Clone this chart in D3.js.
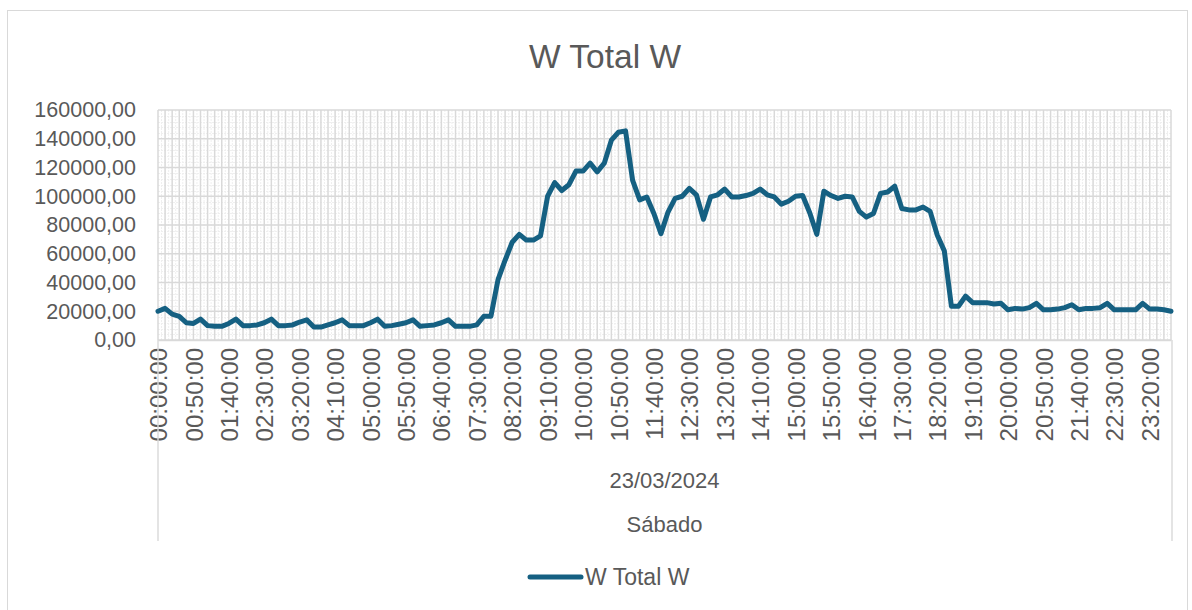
<!DOCTYPE html>
<html>
<head>
<meta charset="utf-8">
<script src="https://cdn.jsdelivr.net/npm/d3@7/dist/d3.min.js"></script>
<style>
  html, body { margin: 0; padding: 0; background: #ffffff; }
  svg { display: block; }
  text { font-family: "Liberation Sans", Arial, sans-serif; fill: #595959; }
</style>
</head>
<body>
<svg id="chart" width="1192" height="610"></svg>
<script>
// W Total W, sampled every 10 minutes on 23/03/2024
const seriesName = "W Total W";
const dateLabel = "23/03/2024";
const dayLabel = "Sábado";
const yTicks = [0, 20000, 40000, 60000, 80000, 100000, 120000, 140000, 160000];

// 00:00:00 ... 23:50:00
const times = d3.range(0, 144).map(i => {
  const h = Math.floor(i / 6), m = (i % 6) * 10;
  return String(h).padStart(2, "0") + ":" + String(m).padStart(2, "0") + ":00";
});

const wTotal = [
  20000, 22000, 18000, 16500, 12000, 11500, 14500, 10000, 9500, 9500,
  11500, 14500, 10000, 10000, 10500, 12000, 14500, 10000, 10000, 10500,
  12500, 14000, 9000, 9000, 10500, 12000, 14000, 10000, 10000, 10000,
  12000, 14500, 9500, 10000, 11000, 12000, 14000, 9500, 10000, 10500,
  12000, 14000, 9500, 9500, 9500, 10500, 16500, 16500, 42000, 55500,
  68000, 73500, 69500, 69500, 72500, 100000, 109500, 104000, 108000, 117500,
  117500, 123000, 117000, 123000, 139000, 144500, 145500, 111000, 97500, 99500,
  88000, 74000, 89000, 98500, 100000, 105500, 101000, 84000, 99500, 101000,
  105000, 99500, 99500, 100500, 102000, 105000, 101000, 99500, 94500, 96500,
  100000, 100500, 88500, 73500, 103500, 100500, 98500, 100000, 99500, 89500,
  85500, 88000, 102000, 103000, 107000, 91500, 90500, 90500, 92500, 89500,
  73000, 62000, 23500, 23500, 30500, 26000, 26000, 26000, 25000, 25500,
  21000, 22000, 21500, 22500, 25500, 21000, 21000, 21500, 22500, 24500,
  21000, 22000, 22000, 22500, 25500, 21000, 21000, 21000, 21000, 25500,
  21500, 21500, 21000, 20000
];

const svg = d3.select("#chart");
const lineColor = "#156082";
const gridMajor = "#d9d9d9";
const gridMinor = "#efefef";

const plot = { left: 158, right: 1171, top: 110, bottom: 340 };

// chart area border
svg.append("rect")
  .attr("x", 7.5).attr("y", 10.5)
  .attr("width", 1180).attr("height", 620)
  .attr("fill", "#ffffff").attr("stroke", gridMajor).attr("stroke-width", 1);

const x = d3.scalePoint().domain(times).range([plot.left, plot.right]);
const step = x.step();
const y = d3.scaleLinear().domain([0, 160000]).range([plot.bottom, plot.top]);

const grid = svg.append("g");

// minor horizontal gridlines
grid.selectAll("line.hmin")
  .data(d3.range(0, 160001, 4000).filter(v => v % 20000 !== 0))
  .join("line")
  .attr("x1", plot.left).attr("x2", plot.right)
  .attr("y1", d => Math.round(y(d)) + 0.5).attr("y2", d => Math.round(y(d)) + 0.5)
  .attr("stroke", gridMinor).attr("stroke-width", 1).attr("stroke-dasharray", "2,1");

// minor vertical gridlines between categories
grid.selectAll("line.vmin")
  .data(times.slice(0, -1))
  .join("line")
  .attr("x1", d => x(d) + step / 2).attr("x2", d => x(d) + step / 2)
  .attr("y1", plot.top).attr("y2", plot.bottom)
  .attr("stroke", gridMinor).attr("stroke-width", 1).attr("stroke-dasharray", "2,1");

// major vertical gridlines at each category
grid.selectAll("line.vmaj")
  .data(times)
  .join("line")
  .attr("x1", d => x(d)).attr("x2", d => x(d))
  .attr("y1", plot.top).attr("y2", plot.bottom)
  .attr("stroke", gridMajor).attr("stroke-width", 1.5);

// major horizontal gridlines
grid.selectAll("line.hmaj")
  .data(yTicks)
  .join("line")
  .attr("x1", plot.left).attr("x2", plot.right)
  .attr("y1", d => y(d)).attr("y2", d => y(d))
  .attr("stroke", gridMajor).attr("stroke-width", 1.5);

// y axis labels
const yAxis = d3.axisLeft(y)
  .tickValues(yTicks)
  .tickSize(0)
  .tickPadding(22)
  .tickFormat(d => d3.format(".2f")(d).replace(".", ","));
const yg = svg.append("g").attr("transform", `translate(${plot.left},0)`).call(yAxis);
yg.select(".domain").remove();
yg.selectAll("text")
  .style("font-family", '"Liberation Sans", Arial, sans-serif')
  .style("font-size", "21.5px").style("fill", "#595959");

// x axis: rotated time labels every 50 minutes
const xAxis = d3.axisBottom(x)
  .tickValues(times.filter((d, i) => i % 5 === 0))
  .tickSize(0);
const xg = svg.append("g").attr("transform", `translate(0,${plot.bottom})`).call(xAxis);
xg.select(".domain").attr("stroke", gridMajor).attr("stroke-width", 1.5);
xg.selectAll("text")
  .attr("transform", "rotate(-90)")
  .attr("x", -8).attr("y", 0).attr("dy", "0.36em")
  .style("text-anchor", "end")
  .style("font-family", '"Liberation Sans", Arial, sans-serif')
  .style("font-size", "24px").style("fill", "#595959");

// multi-level category boundaries
[plot.left, plot.right + 1].forEach(px => {
  svg.append("line")
    .attr("x1", px).attr("x2", px)
    .attr("y1", plot.bottom).attr("y2", 541)
    .attr("stroke", gridMajor).attr("stroke-width", 1.4);
});

const midX = (plot.left + plot.right) / 2;
svg.append("text").attr("x", midX).attr("y", 488)
  .attr("text-anchor", "middle").style("font-size", "22px").text(dateLabel);
svg.append("text").attr("x", midX).attr("y", 532)
  .attr("text-anchor", "middle").style("font-size", "22px").text(dayLabel);

// series line
const line = d3.line()
  .x((d, i) => x(times[i]))
  .y(d => y(d));
svg.append("path")
  .datum(wTotal)
  .attr("d", line)
  .attr("fill", "none")
  .attr("stroke", lineColor)
  .attr("stroke-width", 5)
  .attr("stroke-linejoin", "round")
  .attr("stroke-linecap", "round");

// title
svg.append("text").attr("x", 605).attr("y", 68)
  .attr("text-anchor", "middle")
  .style("font-size", "33.5px")
  .text(seriesName);

// legend
svg.append("line")
  .attr("x1", 530).attr("x2", 581).attr("y1", 577).attr("y2", 577)
  .attr("stroke", lineColor).attr("stroke-width", 5).attr("stroke-linecap", "round");
svg.append("text").attr("x", 585).attr("y", 585)
  .style("font-size", "23px")
  .text(seriesName);
</script>
</body>
</html>
